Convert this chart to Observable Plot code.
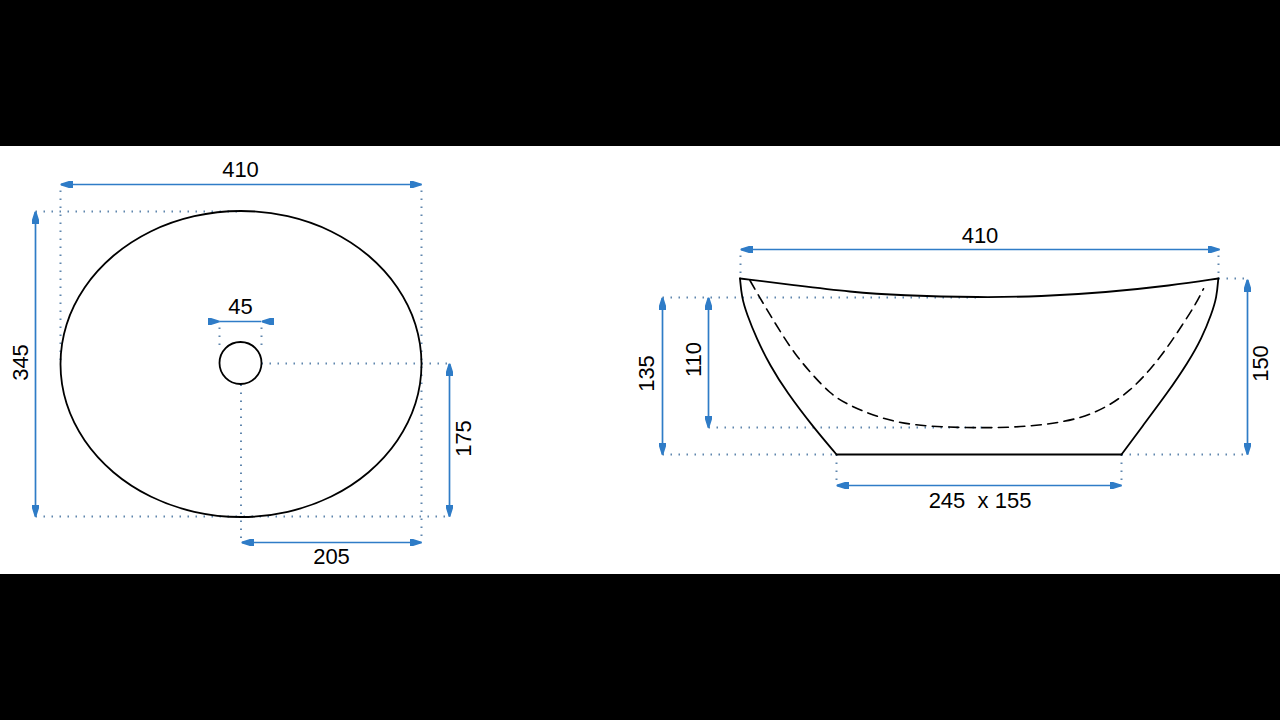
<!DOCTYPE html>
<html>
<head>
<meta charset="utf-8">
<script src="https://cdn.jsdelivr.net/npm/d3@7"></script>
<script src="https://cdn.jsdelivr.net/npm/@observablehq/plot@0.6"></script>
<style>
html,body{margin:0;padding:0;background:#000;overflow:hidden}
svg{display:block}
svg text{white-space:pre}
</style>
</head>
<body>
<div id="chart"></div>
<script>
// Drawing sheet band
const sheet = [[0, 146, 1280, 574]];

// Top view: basin outline and drain hole [x, y]
const basinTop = [[421,363.5],[414.9,323.9],[396.8,287],[368.1,255.3],[330.8,231],[287.2,215.7],[240.5,210.5],[193.8,215.7],[150.2,231],[112.9,255.3],[84.2,287],[66.1,323.9],[60,363.5],[66.1,403.1],[84.2,440],[112.9,471.7],[150.2,496],[193.8,511.3],[240.5,516.5],[287.2,511.3],[330.8,496],[368.1,471.7],[396.8,440],[414.9,403.1]];
const drain = [[240, 362.5, 21]];

// Side view: outer profile, rim, base and inner dashed bowl [x, y]
const sideLeft = [[739.5,278],[741.2,296.7],[746.2,313.3],[756.2,338.3],[769.5,365],[786.2,391.7],[812.8,426.7],[836,454]];
const sideRight = [[1217.8,278],[1216.2,296.7],[1211.2,313],[1201.2,338],[1187.5,362],[1167.5,391.7],[1141.2,426.7],[1121,454]];
const rim = [[739.5,278],[796,285],[850,291.5],[900,295],[980,297],[1040,296],[1105,292],[1171,285],[1217.8,278]];
const base = [[836,454],[1121,454]];
const bowl = [[749.5,280],[758,295],[765,306.7],[779,330],[794,353],[811.5,374],[830,393.3],[845,403.3],[880,418],[913,425],[963,427.5],[1013,427],[1047,424],[1080,418],[1106.5,406.7],[1130,390],[1149,370],[1166,348.3],[1181.5,325],[1195.5,303.3],[1203,288.3]];

// Dimension arrows [x1, y1, x2, y2]
const dimOutside = [
  [60,184,421,184],[35,211,35,516],[449,363,449,516],[241,542,421,542],
  [740,249,1219,249],[1247,279,1247,454],[662,297,662,454],[708,297,708,427],[836,485,1121,485]
];
const dimInside = [[219,321,261,321]];

// Dotted extension lines [x1, y1, x2, y2]
const extension = [
  [35,211,240,211],[60,190,60,363],[421,190,421,542],[35,516,449,516],
  [240.5,384,240.5,542],[219,327,219,350],[261,327,261,350],[261,363,449,363],
  [740,255,740,278],[1218,255,1218,278],[1218,278,1247,278],
  [662,297,980,297],[708,427,985,427],[662,454,836,454],[1121,454,1247,454],
  [836,454,836,485],[1121,454,1121,485]
];

// Dimension labels
const labelText = ["410","345","45","175","205","410","150","135","110","245  x 155"];
const labelX = [240,20.5,240,463.5,331,979.5,1260.5,646.5,693.5,979.5];
const labelY = [169,362,306,438,556,235,363,373,359,500];
const labelRotate = [0,-90,0,-90,0,0,-90,-90,-90,0];

const labels = labelText.map((t,i)=>({t,x:labelX[i],y:labelY[i],r:labelRotate[i]}));
const BLUE = "#2f7cc7", DOT = "#5f86ad";

function head(path, box){
  return (color, context)=>{
    const ns = "http://www.w3.org/2000/svg", doc = context.document;
    const m = doc.createElementNS(ns,"marker");
    m.setAttribute("viewBox", box);
    m.setAttribute("markerUnits","userSpaceOnUse");
    m.setAttribute("markerWidth","12");
    m.setAttribute("markerHeight","7.5");
    m.setAttribute("refX","0");
    m.setAttribute("refY","0");
    m.setAttribute("orient","auto-start-reverse");
    const p = doc.createElementNS(ns,"path");
    p.setAttribute("d",path);
    p.setAttribute("fill",color);
    m.appendChild(p);
    return m;
  };
}
const tipOut = head("M-12,-3.75L0,0L-12,3.75Z","-12 -3.75 12 7.5");
const tipIn = head("M12,-3.75L0,0L12,3.75Z","0 -3.75 12 7.5");

const linkOpts = {x1:d=>d[0],y1:d=>d[1],x2:d=>d[2],y2:d=>d[3]};
const px = {x:d=>d[0],y:d=>d[1]};

const chart = Plot.plot({
  width:1280, height:720, margin:0,
  x:{domain:[0,1280],axis:null},
  y:{domain:[720,0],axis:null},
  r:{type:"identity"},
  style:{background:"#000"},
  marks:[
    Plot.rect(sheet,{x1:d=>d[0],y1:d=>d[1],x2:d=>d[2],y2:d=>d[3],fill:"#fff"}),
    Plot.link(extension,{...linkOpts,stroke:DOT,strokeWidth:2,strokeDasharray:"1.5,6.5"}),
    Plot.line(basinTop,{...px,curve:"catmull-rom-closed",stroke:"#000",strokeWidth:1.8}),
    Plot.dot(drain,{...px,r:d=>d[2],stroke:"#000",strokeWidth:1.8,fill:"#fff"}),
    Plot.line(sideLeft,{...px,curve:"basis",stroke:"#000",strokeWidth:1.8}),
    Plot.line(sideRight,{...px,curve:"basis",stroke:"#000",strokeWidth:1.8}),
    Plot.line(rim,{...px,curve:"basis",stroke:"#000",strokeWidth:1.8}),
    Plot.line(base,{...px,stroke:"#000",strokeWidth:1.8}),
    Plot.line(bowl,{...px,curve:"basis",stroke:"#000",strokeWidth:1.6,strokeDasharray:"10,6.5"}),
    Plot.link(dimOutside,{...linkOpts,stroke:BLUE,strokeWidth:1.7,markerStart:tipOut,markerEnd:tipOut}),
    Plot.link(dimInside,{...linkOpts,stroke:BLUE,strokeWidth:1.7,markerStart:tipIn,markerEnd:tipIn}),
    Plot.text(labels,{x:"x",y:"y",text:"t",rotate:"r",fontSize:22,fontFamily:"Liberation Sans",fill:"#000"})
  ]
});
chart.style.display="block";
document.getElementById("chart").appendChild(chart);
</script>
</body>
</html>
